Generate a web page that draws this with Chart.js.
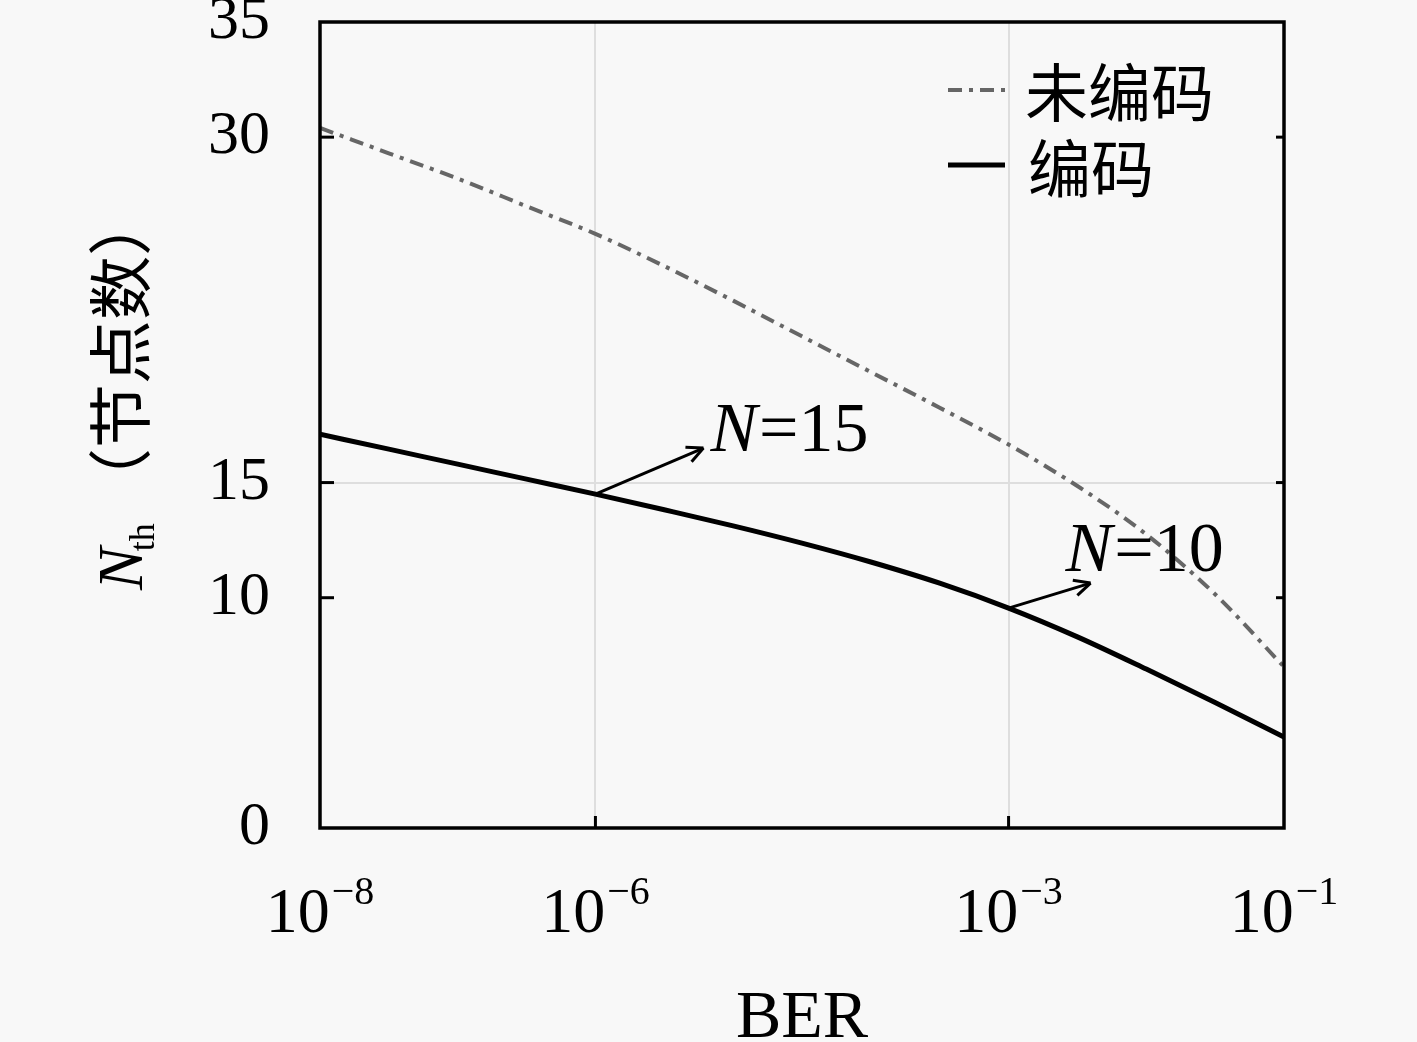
<!DOCTYPE html>
<html>
<head>
<meta charset="utf-8">
<script src="https://cdn.jsdelivr.net/npm/chart.js@4"></script>
<style>
html,body{margin:0;padding:0;background:#f8f8f8;}
#wrap{width:1417px;height:1042px;}
</style>
</head>
<body>
<div id="wrap"><canvas id="chart"></canvas></div>
<script>

/* data, one point every half decade */

const BER = [1e-8, 3.16e-8, 1e-7, 3.16e-7, 1e-6, 3.16e-6, 1e-5, 3.16e-5, 1e-4, 3.16e-4, 1e-3, 3.16e-3, 1e-2, 3.16e-2, 1e-1];
const UNCODED = [30.4, 29.3, 28.2, 27.0, 25.8, 24.4, 22.9, 21.35, 19.8, 18.25, 16.65, 14.85, 12.75, 10.15, 7.0];
const CODED = [17.1, 16.45, 15.8, 15.15, 14.5, 13.82, 13.12, 12.37, 11.55, 10.63, 9.55, 8.3, 6.9, 5.45, 3.95];

const X_TICKS = [1e-8, 1e-6, 1e-3, 1e-1];
const X_TICK_EXP = ["\u22128", "\u22126", "\u22123", "\u22121"];
const Y_TICKS = [0, 10, 15, 30, 35];
const GRID_X = [1e-6, 1e-3];
const GRID_Y = [15];

const SERIES = ["未编码", "编码"];
const NOTES = [
  {text: "=15", at: 1e-6, dx: 115, dy: -43, ax: 108, ay: -46},
  {text: "=10", at: 1e-3, dx: 57, dy: -37, ax: 82, ay: -25}
];

const SERIF = "'Liberation Serif', 'DejaVu Serif', serif";
const CJK = "'Noto Sans CJK SC', sans-serif";


/* extra drawing: frame, inward ticks, tick labels, titles, legend, notes */

function seg(ctx, x1, y1, x2, y2){
ctx.beginPath(); ctx.moveTo(x1, y1); ctx.lineTo(x2, y2); ctx.stroke();
}

const extras = {
id: "extras",
afterDraw(chart){
const {ctx, chartArea: a, scales: {x, y}} = chart;
ctx.save();

// inward tick marks
ctx.strokeStyle = "#000";
ctx.lineWidth = 3;
X_TICKS.forEach(v => {
const px = x.getPixelForValue(v);
if (px <= a.left + 2 || px >= a.right - 2) return;
seg(ctx, px, a.bottom, px, a.bottom - 12);
});
Y_TICKS.forEach(v => {
const py = y.getPixelForValue(v);
if (py <= a.top + 2 || py >= a.bottom - 2) return;
seg(ctx, a.left, py, a.left + 14, py);
seg(ctx, a.right, py, a.right - 8, py);
});

// frame
ctx.lineWidth = 3.5;
ctx.strokeRect(a.left, a.top, a.right - a.left, a.bottom - a.top);

// x tick labels 10^n
ctx.fillStyle = "#000";
ctx.textBaseline = "alphabetic";
ctx.textAlign = "left";
X_TICKS.forEach((v, i) => {
const px = x.getPixelForValue(v);
ctx.font = "64px " + SERIF;
const w1 = ctx.measureText("10").width;
ctx.font = "40px " + SERIF;
const w2 = ctx.measureText(X_TICK_EXP[i]).width;
const start = px - (w1 + 2 + w2) / 2;
ctx.font = "64px " + SERIF;
ctx.fillText("10", start, a.bottom + 104);
ctx.font = "40px " + SERIF;
ctx.fillText(X_TICK_EXP[i], start + w1 + 2, a.bottom + 76);
});

// x title
ctx.font = "68px " + SERIF;
ctx.textAlign = "center";
ctx.fillText("BER", (a.left + a.right) / 2, a.bottom + 209);

// y title, rotated
ctx.save();
ctx.translate(142, 590);
ctx.rotate(-Math.PI / 2);
ctx.textAlign = "left";
ctx.font = "italic 64px " + SERIF;
ctx.fillText("N", 0, 0);
let off = ctx.measureText("N").width - 4;
ctx.font = "36px " + SERIF;
ctx.fillText("th", off, 12);
ctx.font = "64px " + CJK;
ctx.fillText("（节点数）", 78, 2);
ctx.restore();

// legend
const lx = a.right - 336, ly = a.top + 68;
ctx.strokeStyle = "#666";
ctx.lineWidth = 4;
ctx.setLineDash([14, 7, 4, 7]);
seg(ctx, lx, ly, lx + 57, ly);
ctx.setLineDash([]);
ctx.strokeStyle = "#000";
ctx.lineWidth = 5;
seg(ctx, lx, ly + 75, lx + 57, ly + 75);
ctx.font = "63px " + CJK;
ctx.textAlign = "left";
ctx.textBaseline = "middle";
ctx.fillText(SERIES[0], lx + 77, ly + 2);
ctx.fillText(SERIES[1], lx + 80, ly + 78);

// notes with arrows
ctx.textBaseline = "alphabetic";
ctx.lineWidth = 3;
NOTES.forEach(n => {
const i = BER.indexOf(n.at);
const px = x.getPixelForValue(n.at), py = y.getPixelForValue(CODED[i]);
const ex = px + n.ax, ey = py + n.ay;
seg(ctx, px, py, ex, ey);
const ang = Math.atan2(ey - py, ex - px);
[0.45, -0.45].forEach(d => seg(ctx, ex, ey, ex - 18 * Math.cos(ang + d), ey - 18 * Math.sin(ang + d)));
ctx.font = "italic 70px " + SERIF;
ctx.fillText("N", px + n.dx, py + n.dy);
const wn = ctx.measureText("N").width;
ctx.font = "70px " + SERIF;
ctx.fillText(n.text, px + n.dx + wn + 2, py + n.dy);
});

ctx.restore();
}
};

const bg = {
id: "bg",
beforeDraw(chart){
const ctx = chart.ctx;
ctx.save();
ctx.fillStyle = "#f8f8f8";
ctx.fillRect(0, 0, chart.width, chart.height);
ctx.restore();
}
};


/* chart */

new Chart(document.getElementById("chart"), {

type: "line",

data: {
datasets: [{
label: SERIES[0],
data: BER.map((b, i) => ({x: b, y: UNCODED[i]})),
borderColor: "#666",
borderWidth: 4,
borderDash: [14, 7, 4, 7],
pointRadius: 0,
cubicInterpolationMode: "monotone"
}, {
label: SERIES[1],
data: BER.map((b, i) => ({x: b, y: CODED[i]})),
borderColor: "#000",
borderWidth: 5,
pointRadius: 0,
cubicInterpolationMode: "monotone"
}]
},

options: {
responsive: true,
maintainAspectRatio: false,
animation: false,
layout: {padding: {top: 22, right: 133, bottom: 0, left: 0}},
plugins: {legend: {display: false}, tooltip: {enabled: false}},
scales: {
x: {
type: "logarithmic",
min: 1e-8,
max: 1e-1,
afterBuildTicks: s => { s.ticks = X_TICKS.map(v => ({value: v})); },
afterFit: s => { s.height = 214; s.paddingLeft = 0; s.paddingRight = 0; },
ticks: {display: false},
border: {display: false},
grid: {
drawTicks: false,
lineWidth: 2,
color: c => GRID_X.includes(c.tick && c.tick.value) ? "#dedede" : "rgba(0,0,0,0)"
}
},
y: {
min: 0,
max: 35,
afterBuildTicks: s => { s.ticks = Y_TICKS.map(v => ({value: v})); },
afterFit: s => { s.width = 320; s.paddingTop = 0; s.paddingBottom = 0; },
ticks: {
padding: 50,
color: "#000",
font: {family: SERIF, size: 62}
},
border: {display: false},
grid: {
drawTicks: false,
lineWidth: 2,
color: c => GRID_Y.includes(c.tick && c.tick.value) ? "#dedede" : "rgba(0,0,0,0)"
}
}
}
},

plugins: [bg, extras]

});

</script>
</body>
</html>
